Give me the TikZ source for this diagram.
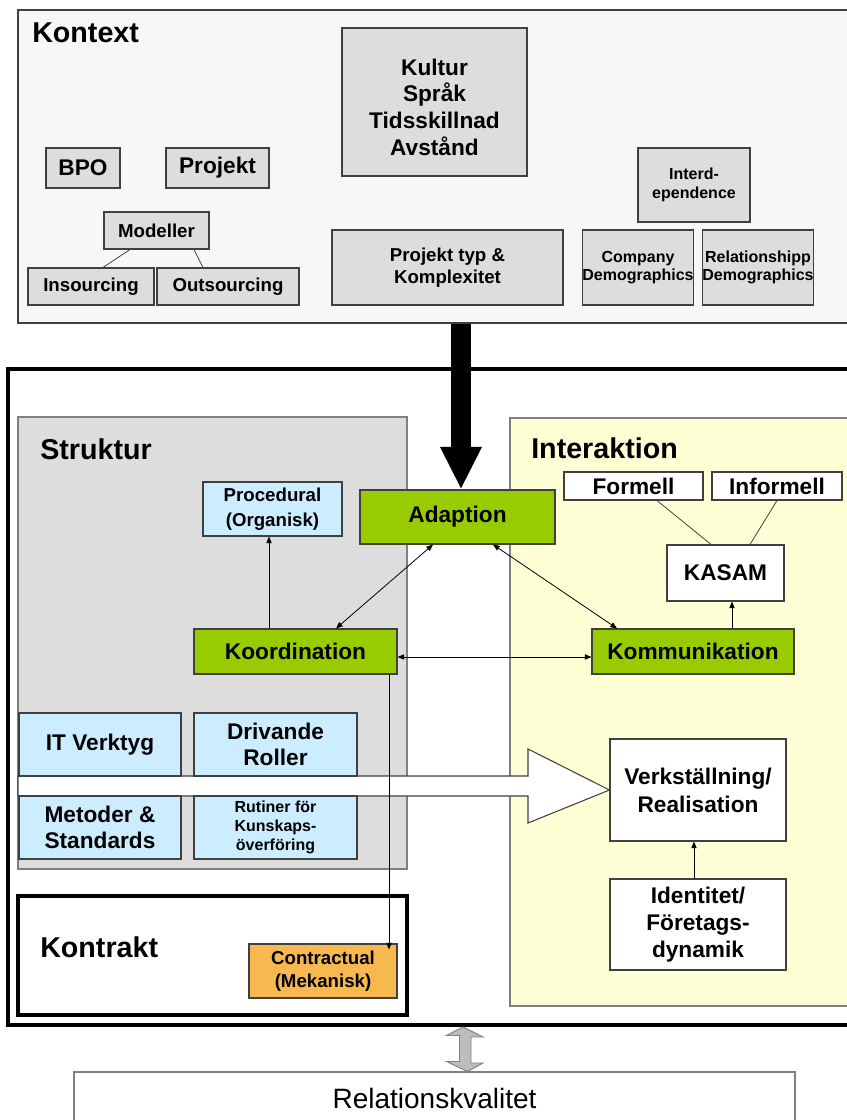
\documentclass[tikz,border=0pt]{standalone}
\usepackage{fontspec}
\setmainfont{Liberation Sans}
\usetikzlibrary{arrows.meta,calc}
\definecolor{ctxbg}{HTML}{F7F7F7}
\definecolor{gbox}{HTML}{DDDDDD}
\definecolor{bluebox}{HTML}{CCECFF}
\definecolor{greenbox}{HTML}{99CC00}
\definecolor{yellowbg}{HTML}{FFFFD6}
\definecolor{orangebox}{HTML}{F8B850}
\definecolor{edge}{HTML}{404040}
\definecolor{lightedge}{HTML}{808080}
\definecolor{dblarrow}{HTML}{BDBDBD}
\newcommand\fsz[2]{\fontsize{#1}{#2}\selectfont}
\begin{document}
\begin{tikzpicture}[x=0.75pt,y=-0.75pt,
  rect/.style args={#1,#2,#3,#4}{minimum width={(#3-#1)*0.75pt}, minimum height={(#4-#2)*0.75pt}, at={({(#1+#3)/2},{(#2+#4)/2})}},
  box/.style={draw=edge, line width=0.8pt, inner sep=0pt, align=center},
  gbx/.style={box, fill=gbox},
  bbx/.style={box, fill=bluebox},
  grn/.style={box, fill=greenbox},
  wbx/.style={box, fill=white},
  ttl/.style={anchor=base west, inner sep=0pt, font=\bfseries\fsz{21.5}{25}},
  big/.style={font=\bfseries\fsz{17}{20}},
  mid/.style={font=\bfseries\fsz{14}{16.5}},
  sml/.style={font=\bfseries\fsz{12}{14}},
  conn/.style={draw=black, line width=0.6pt},
  tip/.style={-{Triangle[length=5pt,width=4pt]}},
  dtip/.style={{Triangle[length=5pt,width=4pt]}-{Triangle[length=5pt,width=4pt]}},
]
\useasboundingbox (0,0) rectangle (846,1120);

% ---------------- Kontext ----------------
\node[rect={18,10,852,323}, draw=edge, line width=1.2pt, fill=ctxbg, inner sep=0pt] (kontext) {};
\node[ttl] (kontextt) at (32,43) {Kontext};

\node[gbx, big, rect={342,28,527,176}] (kultur) {\rule{0pt}{20pt}Kultur\\Språk\\Tidsskillnad\\Avstånd};
\node[gbx, big, rect={46,148,120,188}] (bpo) {BPO};
\node[gbx, big, rect={166,148,269,188}] (projekt) {Projekt};
\node[gbx, mid, rect={104,212,209,249}] (modeller) {Modeller};
\node[gbx, mid, rect={28,268,154,305}] (insourcing) {Insourcing};
\node[gbx, mid, rect={157,268,299,305}] (outsourcing) {Outsourcing};
\node[gbx, mid, rect={332,230,563,305}] (typ) {Projekt typ \&\\Komplexitet};
\node[gbx, sml, rect={638,148,750,222}] (interd) {Interd-\\ependence};
\node[gbx, sml, rect={583,230,693,305}] (company) {Company\\Demographics};
\node[gbx, sml, rect={703,230,813,305}] (relship) {Relationshipp\\Demographics};

\draw[conn, draw=edge] ($(modeller.south)+(-26.5,0)$) -- ($(insourcing.north)+(12,0)$);
\draw[conn, draw=edge] ($(modeller.south)+(37.5,0)$) -- ($(outsourcing.north)+(-25,0)$);

% ---------------- Main frame ----------------
\node[rect={8,369,852,1025}, draw=black, line width=3pt, inner sep=0pt] (main) {};
\node[rect={18,417,407,869}, draw=lightedge, line width=0.8pt, fill=gbox, inner sep=0pt] (struktur) {};
\node[rect={510,418,852,1006}, draw=lightedge, line width=0.8pt, fill=yellowbg, inner sep=0pt] (interaktion) {};
\node[ttl] (strukturt) at (40,459) {Struktur};
\node[ttl] (interaktiont) at (531,458) {Interaktion};

% Adaption and arrow from Kontext
\node[grn, big, rect={360,490,555,544}] (adapt) {Adaption};
\draw[line width=15pt, -{Triangle[length=32pt,width=29pt]}] ($(kontext.south)+(26,0)$) -- ($(adapt.north)+(3.5,0)$);

\node[bbx, font=\bfseries\fsz{14}{18.5}, rect={203,482,342,536}] (proc) {Procedural\\(Organisk)};
\node[wbx, big, rect={564,472,703,500}] (formell) {Formell};
\node[wbx, big, rect={712,472,842,500}] (informell) {Informell};
\node[wbx, big, rect={667,545,784,601}] (kasam) {KASAM};
\node[grn, big, rect={194,629,397,674}] (koord) {Koordination};
\node[grn, big, rect={592,629,794,674}] (komm) {Kommunikation};

\draw[conn, draw=edge] ($(formell.south)+(23.5,0)$) -- ($(kasam.north)+(-14.5,0)$);
\draw[conn, draw=edge] (informell.south) -- ($(kasam.north)+(24.5,0)$);

\draw[conn, tip] ($(koord.north)+(-26.5,0)$) -- ($(proc.south)+(-3.5,0)$);
\draw[conn, dtip] ($(adapt.south)+(-24.5,0)$) -- ($(koord.north)+(40.5,0)$);
\draw[conn, dtip] ($(adapt.south)+(35.5,0)$) -- ($(komm.north)+(-76,0)$);
\draw[conn, dtip] ($(koord.east)+(0,5.5)$) -- ($(komm.west)+(0,5.5)$);
\draw[conn, tip] ($(komm.north)+(39,0)$) -- ($(kasam.south)+(6.5,0)$);

% Verkstallning and hollow arrow
\node[wbx, font=\bfseries\fsz{17}{21}, rect={610,739,786,841}] (verk) {Verkställning/\\Realisation};
\draw[draw=edge, fill=white, line width=0.8pt] (18,776) -- (528,776) -- (528,749) -- (verk.west) -- (528,823) -- (528,796) -- (18,796) -- cycle;

\node[bbx, big, rect={19,713,181,776}] (it) {IT Verktyg};
\node[bbx, big, rect={194,713,357,776}] (driv) {Drivande\\Roller};
\node[bbx, big, rect={19,796,181,859}] (metod) {Metoder \&\\Standards};
\node[bbx, font=\bfseries\fsz{12}{14.3}, rect={194,796,357,859}] (rutin) {Rutiner för\\Kunskaps-\\överföring};

\node[wbx, big, rect={610,879,786,970}] (ident) {Identitet/\\Företags-\\dynamik};
\draw[conn, tip] ($(ident.north)+(-4,0)$) -- ($(verk.south)+(-4,0)$);

% Kontrakt
\node[rect={18,896,407,1015}, draw=black, line width=3pt, fill=white, inner sep=0pt] (kontrakt) {};
\node[ttl] (kontraktt) at (40,957) {Kontrakt};
\node[box, fill=orangebox, font=\bfseries\fsz{14}{17.5}, rect={249,944,397,998}] (contr) {Contractual\\(Mekanisk)};
\draw[conn, tip] ($(koord.south)+(93.5,0)$) -- ($(contr.north)+(66,6)$);

% Relationskvalitet
\node[box, draw=lightedge, fill=white, font=\fsz{21}{25}, rect={74,1072,795,1125}] (relq) {Relationskvalitet};
\draw[draw=gray, fill=dblarrow, line width=0.7pt]
  ($(main.south)+(33,0)$) -- ++(20,10) -- ++(-12,0) -- ++(0,26) -- ++(12,0) -- ($(relq.north)+(33,0)$)
  -- ++(-21,-10) -- ++(13,0) -- ++(0,-26) -- ++(-13,0) -- cycle;
\end{tikzpicture}
\end{document}
